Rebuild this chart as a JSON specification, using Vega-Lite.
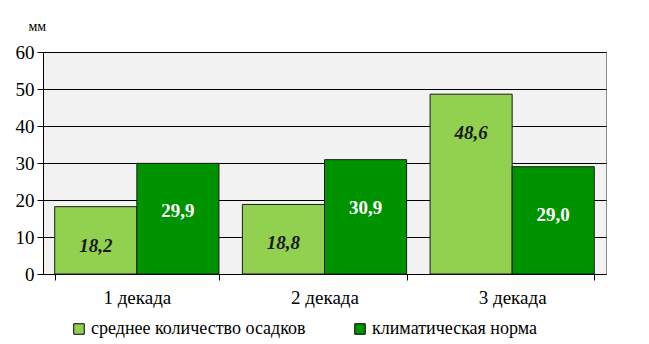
{
  "$schema": "https://vega.github.io/schema/vega-lite/v6.json",
  "width": 563,
  "height": 222,
  "autosize": {"type": "none"},
  "padding": {"left": 43, "top": 52, "right": 43, "bottom": 70},
  "background": "white",
  "config": {
    "locale": {"number": {"decimal": ",", "thousands": " ", "grouping": [3], "currency": ["", ""]}},
    "font": "Liberation Serif",
    "axis": {"labelFont": "Liberation Serif", "titleFont": "Liberation Serif"},
    "legend": {"labelFont": "Liberation Serif"},
    "text": {"font": "Liberation Serif"},
    "view": {"fill": "#f2f2f2", "stroke": "#8c8c8c", "strokeWidth": 1}
  },
  "data": {
    "values": [
      {"decade": "1 декада", "series": "среднее количество осадков", "value": 18.2},
      {"decade": "1 декада", "series": "климатическая норма", "value": 29.9},
      {"decade": "2 декада", "series": "среднее количество осадков", "value": 18.8},
      {"decade": "2 декада", "series": "климатическая норма", "value": 30.9},
      {"decade": "3 декада", "series": "среднее количество осадков", "value": 48.6},
      {"decade": "3 декада", "series": "климатическая норма", "value": 29.0}
    ]
  },
  "encoding": {
    "x": {
      "field": "decade", "type": "nominal",
      "sort": ["1 декада", "2 декада", "3 декада"],
      "scale": {"paddingInner": 0.125, "paddingOuter": 0.0625},
      "axis": {
        "title": null, "labelAngle": 0, "labelFontSize": 19, "labelColor": "black",
        "labelFont": "Liberation Serif",
        "domainColor": "black", "tickColor": "black", "tickSize": 6, "tickBand": "extent",
        "labelPadding": 8, "grid": false
      }
    },
    "xOffset": {
      "field": "series", "type": "nominal",
      "sort": ["среднее количество осадков", "климатическая норма"],
      "scale": {"paddingInner": 0, "paddingOuter": 0}
    },
    "y": {
      "field": "value", "type": "quantitative",
      "scale": {"domain": [0, 60], "nice": false},
      "axis": {
        "values": [0, 10, 20, 30, 40, 50, 60],
        "grid": true, "gridColor": "black", "gridWidth": 1, "gridOpacity": 1,
        "domainColor": "black", "tickColor": "black", "tickSize": 6,
        "labelFontSize": 19, "labelColor": "black", "labelPadding": 3, "labelFont": "Liberation Serif",
        "title": "мм", "titleAngle": 0, "titleFontSize": 14, "titleFontWeight": "normal", "titleFont": "Liberation Serif",
        "titleX": -15, "titleY": -22, "titleAlign": "left", "titleBaseline": "alphabetic", "titleColor": "black"
      }
    }
  },
  "layer": [
    {
      "mark": {"type": "bar", "stroke": "#1a1a1a", "strokeWidth": 1},
      "encoding": {
        "color": {
          "field": "series", "type": "nominal",
          "sort": ["среднее количество осадков", "климатическая норма"],
          "scale": {"domain": ["среднее количество осадков", "климатическая норма"], "range": ["#92d050", "#009300"]},
          "legend": {
            "orient": "none", "legendX": 27, "legendY": 268, "direction": "horizontal",
            "title": null, "symbolType": "square", "symbolSize": 110,
            "symbolStrokeColor": "black", "symbolStrokeWidth": 1, "symbolOpacity": 1,
            "labelFontSize": 18, "labelColor": "black", "columnPadding": 45, "labelOffset": 3,
            "labelLimit": 400, "labelFont": "Liberation Serif"
          }
        }
      }
    },
    {
      "transform": [{"filter": "datum.series == 'среднее количество осадков'"}],
      "mark": {"type": "text", "dy": 39, "font": "Liberation Serif", "fontWeight": "bold", "fontStyle": "italic", "fontSize": 19, "color": "#1a1a1a"},
      "encoding": {"text": {"field": "value", "type": "quantitative", "format": ".1f"}}
    },
    {
      "transform": [{"filter": "datum.series == 'климатическая норма'"}],
      "mark": {"type": "text", "dy": 48, "font": "Liberation Serif", "fontWeight": "bold", "fontSize": 19, "color": "white"},
      "encoding": {"text": {"field": "value", "type": "quantitative", "format": ".1f"}}
    }
  ]
}
